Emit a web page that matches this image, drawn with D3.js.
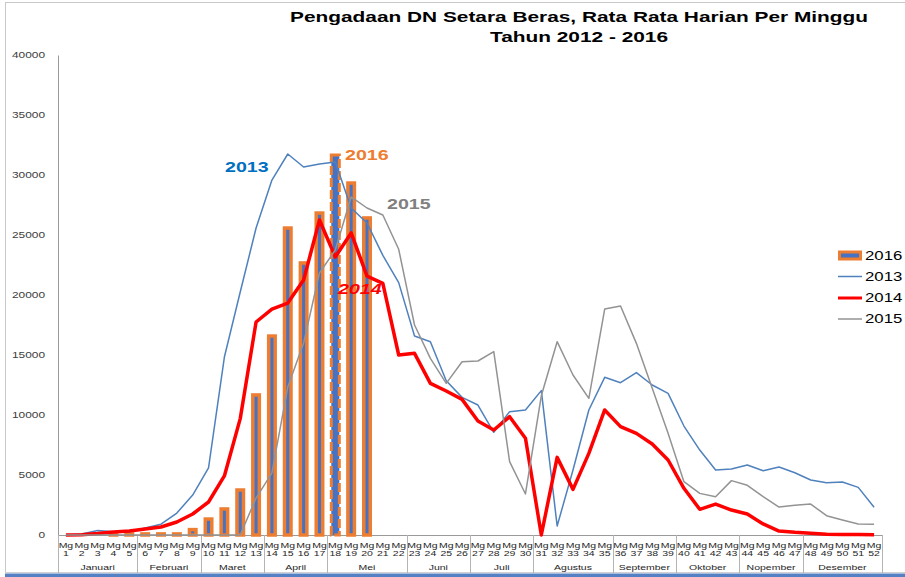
<!DOCTYPE html>
<html>
<head>
<meta charset="utf-8">
<script src="https://cdnjs.cloudflare.com/ajax/libs/d3/7.8.5/d3.min.js"></script>
<style>
  body { margin: 0; background: #fff; }
  text { font-family: "Liberation Sans", Arial, sans-serif; }
</style>
</head>
<body>
<div id="main"></div>
<script>
var weeks = [1, 2, 3, 4, 5, 6, 7, 8, 9, 10, 11, 12, 13, 14, 15, 16, 17, 18, 19, 20,
  21, 22, 23, 24, 25, 26, 27, 28, 29, 30, 31, 32, 33, 34, 35, 36, 37, 38, 39, 40,
  41, 42, 43, 44, 45, 46, 47, 48, 49, 50, 51, 52];
var months = ['Januari', 'Februari', 'Maret', 'April', 'Mei', 'Juni', 'Juli',
  'Agustus', 'September', 'Oktober', 'Nopember', 'Desember'];
var monthWeeks = [5, 4, 4, 4, 5, 4, 4, 5, 4, 4, 4, 5];
var yTicks = [0, 5000, 10000, 15000, 20000, 25000, 30000, 35000, 40000];

// 2016 only has weeks 1-20
var v2016 = [0, 0, 0, 90, 90, 90, 90, 90, 450, 1330, 2170, 3750, 11670, 16580, 25580,
  22670, 26830, 31670, 29330, 26420];
var v2013 = [0, 80, 380, 280, 250, 580, 900, 1830, 3330, 5600, 14830, 20250, 25580,
  29580, 31750, 30670, 30920, 31080, 27250, 26000, 23300, 21030, 16580, 16110, 12860,
  11470, 10830, 8560, 10280, 10420, 12030, 750, 5420, 10420, 13140, 12690, 13530,
  12500, 11800, 9080, 7080, 5420, 5500, 5830, 5360, 5670, 5190, 4580, 4360, 4420,
  3970, 2310];
var v2014 = [0, 20, 120, 250, 330, 500, 670, 1080, 1750, 2750, 4920, 9700, 17750,
  18830, 19330, 21250, 26250, 23170, 25170, 21580, 20970, 15000, 15140, 12640, 12000,
  11300, 9500, 8750, 9860, 8060, 0, 6470, 3800, 6800, 10420, 9030, 8470, 7580, 6250,
  3890, 2140, 2580, 2080, 1750, 920, 330, 220, 140, 60, 50, 40, 30];
var v2015 = [0, 0, 0, 0, 0, 0, 0, 0, 0, 0, 0, 0, 3080, 5170, 12330, 16000, 21830,
  23750, 28170, 27250, 26670, 23810, 17500, 14720, 12640, 14440, 14500, 15280, 6110,
  3420, 11600, 16110, 13330, 11390, 18830, 19080, 15970, 12220, 8470, 4440, 3470,
  3190, 4530, 4140, 3190, 2330, 2470, 2580, 1610, 1250, 920, 890];

var width = 905, height = 577;
var sx = 1.4; // text in the reference is stretched sideways

var svg = d3.select('#main')
  .append('svg')
  .attr('width', width)
  .attr('height', height);

var x = d3.scaleBand().domain(weeks).range([58, 882]);
var y = d3.scaleLinear().domain([0, 40000]).range([535, 55]);
var bw = x.bandwidth();
function cx(w) { return x(w) + bw / 2; }

function label(g, tx, ty, str) {
  return g.append('text')
    .attr('transform', 'translate(' + tx + ',' + ty + ') scale(' + sx + ',1)')
    .text(str);
}

// frame
svg.append('line').attr('x1', 5).attr('x2', 905).attr('y1', 2.5).attr('y2', 2.5)
  .attr('stroke', '#c8c8c8');
svg.append('line').attr('x1', 5.5).attr('x2', 5.5).attr('y1', 2).attr('y2', 573)
  .attr('stroke', '#c8c8c8');
svg.append('line').attr('x1', 5).attr('x2', 905).attr('y1', 572.5).attr('y2', 572.5)
  .attr('stroke', '#d0d0d0');
svg.append('rect').attr('x', 5).attr('y', 573.5).attr('width', 900).attr('height', 4)
  .attr('fill', '#5580c4');

// title
var title = svg.append('g')
  .attr('font-weight', 'bold')
  .attr('font-size', 14.9)
  .attr('text-anchor', 'middle')
  .attr('fill', '#000');
label(title, 579, 21.5, 'Pengadaan DN Setara Beras, Rata Rata Harian Per Minggu');
label(title, 579, 41.5, 'Tahun 2012 - 2016');

// y axis
var yAxis = svg.append('g')
  .attr('transform', 'translate(58,0)')
  .call(d3.axisLeft(y).tickValues(yTicks).tickSize(0).tickPadding(13).tickFormat(d3.format('d')));
yAxis.select('.domain').attr('stroke', '#9a9a9a');
yAxis.selectAll('.tick text')
  .attr('x', -13 / sx)
  .attr('transform', 'scale(' + sx + ',1)')
  .attr('font-size', 8.5)
  .attr('font-family', '"Liberation Sans", Arial, sans-serif')
  .attr('fill', '#404040');

// x axis
var xAxis = svg.append('g')
  .attr('transform', 'translate(0,535)')
  .call(d3.axisBottom(x).tickSize(0).tickSizeOuter(0).tickFormat(''));
xAxis.select('.domain').attr('stroke', '#9a9a9a');
xAxis.selectAll('.tick text').remove();
xAxis.selectAll('.tick').each(function(w) {
  var t = d3.select(this)
    .attr('font-size', 7.5)
    .attr('font-family', '"Liberation Sans", Arial, sans-serif')
    .attr('text-anchor', 'middle')
    .attr('fill', '#262626');
  label(t, 0, 12.5, 'Mg');
  label(t, 0, 21, w);
});

var bounds = [0];
monthWeeks.forEach(function(n, i) { bounds.push(bounds[i] + n); });
function bx(b) { return b < weeks.length ? x(weeks[b]) : x.range()[1]; }

svg.append('g').selectAll('line')
  .data(bounds)
  .enter()
  .append('line')
  .attr('x1', function(b) { return Math.round(bx(b)) + 0.5; })
  .attr('x2', function(b) { return Math.round(bx(b)) + 0.5; })
  .attr('y1', 535)
  .attr('y2', 573)
  .attr('stroke', '#b4b4b4');

var monthG = svg.append('g')
  .attr('font-size', 7.5)
  .attr('text-anchor', 'middle')
  .attr('fill', '#262626');
months.forEach(function(m, i) {
  label(monthG, (bx(bounds[i]) + bx(bounds[i + 1])) / 2, 570, m);
});

// 2016 bars
var bars = svg.append('g').selectAll('rect')
  .data(v2016.map(function(v, i) { return { week: weeks[i], value: v }; })
    .filter(function(d) { return d.value > 0; }))
  .enter()
  .append('rect')
  .attr('x', function(d) { return cx(d.week) - (d.week === 18 ? 4 : 3.25); })
  .attr('width', function(d) { return d.week === 18 ? 8 : 6.5; })
  .attr('y', function(d) { return y(d.value); })
  .attr('height', function(d) { return y(0) - y(d.value); })
  .attr('fill', '#4472c4')
  .attr('stroke', '#ed7d31')
  .attr('stroke-width', function(d) { return d.week === 18 ? 3 : 3.5; })
  .attr('stroke-dasharray', function(d) { return d.week === 18 ? '9,3' : null; });

// lines
var line = d3.line()
  .x(function(d, i) { return cx(weeks[i]); })
  .y(function(d) { return y(d); });

var series = [
  { values: v2013, color: '#4f81bd', w: 1.5 },
  { values: v2014, color: '#ff0000', w: 3.5 },
  { values: v2015, color: '#939393', w: 1.5 }
];
svg.append('g').selectAll('path')
  .data(series)
  .enter()
  .append('path')
  .attr('d', function(s) { return line(s.values); })
  .attr('fill', 'none')
  .attr('stroke', function(s) { return s.color; })
  .attr('stroke-width', function(s) { return s.w; })
  .attr('stroke-linejoin', 'round');

// labels on the chart
var ann = svg.append('g').attr('font-weight', 'bold').attr('font-size', 14);
label(ann, 225, 171.5, '2013').attr('fill', '#0070c0');
label(ann, 345, 159.5, '2016').attr('fill', '#ed7d31');
label(ann, 387, 208.5, '2015').attr('fill', '#808080');
label(ann, 338, 293.5, '2014').attr('fill', '#ff0000').attr('font-style', 'italic');

// legend
var legend = svg.append('g').attr('font-size', 12).attr('fill', '#000');
var legendRows = [
  { name: '2016', yy: 255.5 },
  { name: '2013', yy: 276.5, color: '#4f81bd', w: 1.5 },
  { name: '2014', yy: 298, color: '#ff0000', w: 3 },
  { name: '2015', yy: 319, color: '#939393', w: 1.5 }
];
legendRows.forEach(function(r) {
  if (r.color) {
    legend.append('line')
      .attr('x1', 838).attr('x2', 862)
      .attr('y1', r.yy).attr('y2', r.yy)
      .attr('stroke', r.color)
      .attr('stroke-width', r.w);
  } else {
    legend.append('rect')
      .attr('x', 839.5).attr('y', r.yy - 3.5)
      .attr('width', 21).attr('height', 7)
      .attr('fill', '#4472c4')
      .attr('stroke', '#ed7d31')
      .attr('stroke-width', 3);
  }
  label(legend, 865, r.yy + 4.3, r.name);
});
</script>
</body>
</html>
